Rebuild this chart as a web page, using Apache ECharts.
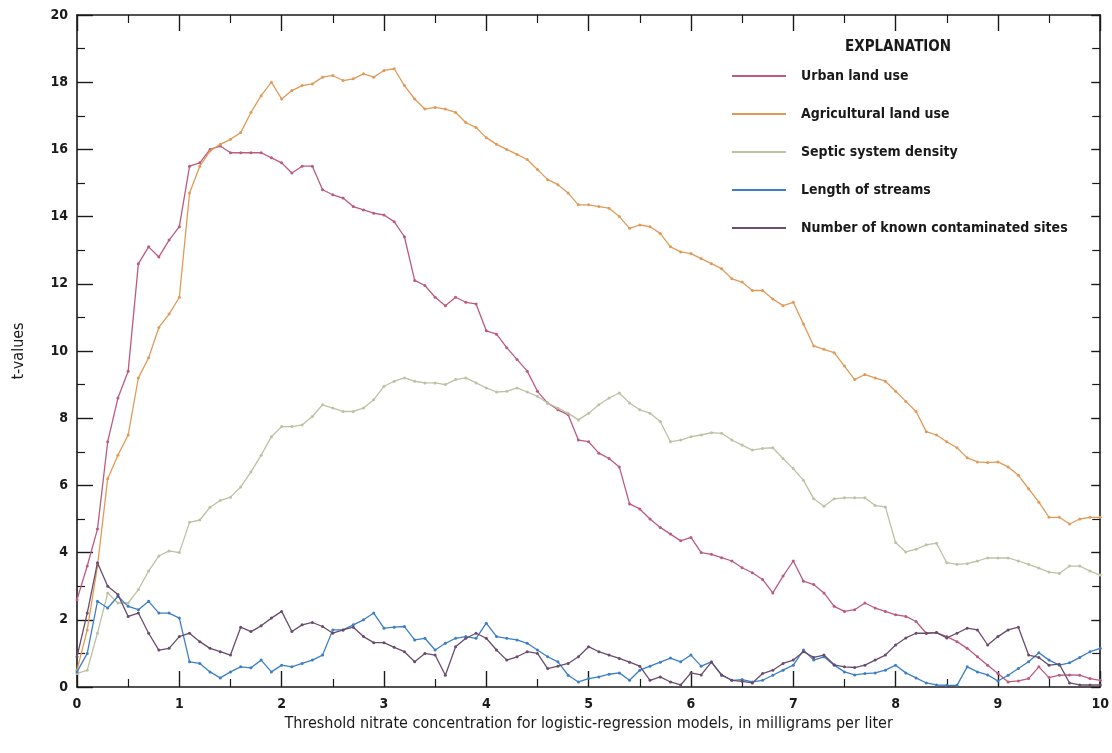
<!DOCTYPE html>
<html>
<head>
<meta charset="utf-8">
<title>t-values by threshold nitrate concentration</title>
<script src="https://cdn.jsdelivr.net/npm/echarts@6/dist/echarts.min.js"></script>
<style>
  html, body { margin: 0; padding: 0; background: #ffffff; }
  #chart { width: 1112px; height: 753px; }
</style>
</head>
<body>
<div id="chart"></div>
<script>
// Threshold nitrate concentration (mg/L) for each logistic-regression model
const thresholds = [
  0.0, 0.1, 0.2, 0.3, 0.4, 0.5, 0.6, 0.7, 0.8, 0.9,
  1.0, 1.1, 1.2, 1.3, 1.4, 1.5, 1.6, 1.7, 1.8, 1.9,
  2.0, 2.1, 2.2, 2.3, 2.4, 2.5, 2.6, 2.7, 2.8, 2.9,
  3.0, 3.1, 3.2, 3.3, 3.4, 3.5, 3.6, 3.7, 3.8, 3.9,
  4.0, 4.1, 4.2, 4.3, 4.4, 4.5, 4.6, 4.7, 4.8, 4.9,
  5.0, 5.1, 5.2, 5.3, 5.4, 5.5, 5.6, 5.7, 5.8, 5.9,
  6.0, 6.1, 6.2, 6.3, 6.4, 6.5, 6.6, 6.7, 6.8, 6.9,
  7.0, 7.1, 7.2, 7.3, 7.4, 7.5, 7.6, 7.7, 7.8, 7.9,
  8.0, 8.1, 8.2, 8.3, 8.4, 8.5, 8.6, 8.7, 8.8, 8.9,
  9.0, 9.1, 9.2, 9.3, 9.4, 9.5, 9.6, 9.7, 9.8, 9.9,
  10.0
];

// t-values of each explanatory variable
const urbanLandUse = [
  2.6, 3.6, 4.7, 7.3, 8.6, 9.4, 12.6, 13.1, 12.8, 13.3,
  13.7, 15.5, 15.6, 16.0, 16.1, 15.9, 15.9, 15.9, 15.9, 15.75,
  15.6, 15.3, 15.5, 15.5, 14.8, 14.65, 14.55, 14.3, 14.2, 14.1,
  14.05, 13.85, 13.4, 12.1, 11.95, 11.6, 11.35, 11.6, 11.45, 11.4,
  10.6, 10.5, 10.1, 9.75, 9.4, 8.8, 8.45, 8.25, 8.1, 7.35,
  7.3, 6.96, 6.8, 6.55, 5.45, 5.3, 5.0, 4.75, 4.55, 4.35,
  4.45, 4.0, 3.95, 3.85, 3.75, 3.55, 3.4, 3.2, 2.8, 3.3,
  3.75, 3.15, 3.05, 2.8, 2.4, 2.25, 2.3, 2.5, 2.35, 2.25,
  2.15, 2.1, 1.95, 1.6, 1.62, 1.5, 1.35, 1.15, 0.9, 0.65,
  0.4, 0.15, 0.18, 0.25, 0.6, 0.28, 0.35, 0.36, 0.35, 0.25,
  0.2
];

const agriculturalLandUse = [
  0.5, 1.7, 3.6, 6.2, 6.9, 7.5, 9.2, 9.8, 10.7, 11.1,
  11.6, 14.7, 15.5, 15.95, 16.15, 16.3, 16.5, 17.1, 17.6, 18.0,
  17.5, 17.75, 17.9, 17.95, 18.15, 18.2, 18.05, 18.1, 18.25, 18.15,
  18.35, 18.4, 17.9, 17.5, 17.2, 17.25, 17.2, 17.1, 16.8, 16.65,
  16.35, 16.15, 16.0, 15.85, 15.7, 15.4, 15.1, 14.95, 14.7, 14.35,
  14.35, 14.3, 14.25, 14.0, 13.65, 13.75, 13.7, 13.5, 13.1, 12.95,
  12.9, 12.75, 12.6, 12.45, 12.15, 12.05, 11.8, 11.8, 11.55, 11.35,
  11.45, 10.8, 10.15, 10.05, 9.95, 9.55, 9.15, 9.3, 9.2, 9.1,
  8.8, 8.5, 8.2, 7.6, 7.5, 7.3, 7.12, 6.82, 6.7, 6.68,
  6.7, 6.55, 6.3, 5.9, 5.5, 5.05, 5.05, 4.85, 5.0, 5.05,
  5.05
];

const septicSystemDensity = [
  0.4, 0.5, 1.6, 2.8, 2.5, 2.5, 2.9, 3.45, 3.9, 4.05,
  4.0, 4.9, 4.97, 5.35, 5.55, 5.65, 5.95, 6.4, 6.9, 7.45,
  7.75, 7.75, 7.8, 8.05, 8.4, 8.3, 8.2, 8.2, 8.3, 8.55,
  8.95, 9.1, 9.2, 9.1, 9.05, 9.05, 9.0, 9.15, 9.2, 9.05,
  8.9, 8.78, 8.8, 8.9, 8.78, 8.65, 8.45, 8.3, 8.15, 7.95,
  8.15, 8.4, 8.6, 8.75, 8.45, 8.25, 8.15, 7.9, 7.3, 7.35,
  7.45, 7.5, 7.57, 7.55, 7.35, 7.2, 7.05, 7.1, 7.12, 6.8,
  6.5, 6.15, 5.6, 5.38, 5.6, 5.63, 5.63, 5.63, 5.4, 5.36,
  4.3, 4.02, 4.1, 4.23, 4.28, 3.7, 3.65, 3.67, 3.75, 3.84,
  3.84, 3.84, 3.75, 3.65, 3.54, 3.42, 3.38, 3.6, 3.6, 3.45,
  3.33
];

const lengthOfStreams = [
  0.45, 1.0, 2.55, 2.35, 2.7, 2.4, 2.3, 2.55, 2.2, 2.2,
  2.05, 0.75, 0.7, 0.45, 0.27, 0.45, 0.6, 0.57, 0.8, 0.45,
  0.65, 0.6, 0.7, 0.8, 0.95, 1.7, 1.7, 1.85, 2.0, 2.2,
  1.75, 1.78, 1.8, 1.4, 1.45, 1.1, 1.3, 1.45, 1.5, 1.45,
  1.9, 1.5, 1.45, 1.4, 1.3, 1.1, 0.9, 0.75, 0.35, 0.15,
  0.25, 0.3, 0.38, 0.42, 0.2, 0.5, 0.62, 0.74, 0.86, 0.75,
  0.95, 0.62, 0.75, 0.35, 0.2, 0.22, 0.15, 0.2, 0.35, 0.5,
  0.65, 1.1, 0.8, 0.9, 0.65, 0.45, 0.36, 0.4, 0.42, 0.5,
  0.65, 0.42, 0.27, 0.12, 0.06, 0.05, 0.05, 0.6, 0.45, 0.36,
  0.18, 0.35, 0.55, 0.75, 1.02, 0.8, 0.65, 0.72, 0.88, 1.05,
  1.15
];

const contaminatedSites = [
  0.9, 2.2, 3.7, 3.0, 2.75, 2.1, 2.2, 1.6, 1.1, 1.15,
  1.5, 1.6, 1.35, 1.15, 1.05, 0.95, 1.78, 1.65, 1.82, 2.05,
  2.25, 1.65, 1.85, 1.92, 1.8, 1.6, 1.7, 1.78, 1.5, 1.32,
  1.32, 1.18, 1.05, 0.75, 1.0, 0.95, 0.35, 1.2, 1.45, 1.6,
  1.45, 1.1, 0.8, 0.9, 1.05, 1.0, 0.55, 0.62, 0.7, 0.9,
  1.2, 1.05, 0.95, 0.85, 0.74, 0.62, 0.2, 0.3, 0.15, 0.06,
  0.42, 0.36, 0.74, 0.36, 0.2, 0.17, 0.12, 0.4, 0.5, 0.7,
  0.8, 1.05, 0.88, 0.95, 0.66, 0.6, 0.58, 0.65, 0.8, 0.95,
  1.25, 1.46, 1.6, 1.6, 1.62, 1.46, 1.6, 1.75, 1.7, 1.25,
  1.5, 1.7, 1.78, 0.95, 0.88, 0.65, 0.68, 0.12, 0.06, 0.06,
  0.06
];

const seriesNames = [
  'Urban land use',
  'Agricultural land use',
  'Septic system density',
  'Length of streams',
  'Number of known contaminated sites'
];
const seriesValues = [urbanLandUse, agriculturalLandUse, septicSystemDensity, lengthOfStreams, contaminatedSites];
const seriesColors = ['#bd5a80', '#e29a58', '#bcc2a2', '#3c7fc6', '#6a4c6c'];

const xTickLabels = ['0', '1', '2', '3', '4', '5', '6', '7', '8', '9', '10'];
const yTickLabels = ['0', '2', '4', '6', '8', '10', '12', '14', '16', '18', '20'];

const FONT = "'Liberation Sans Narrow', 'DejaVu Sans Condensed', 'Liberation Sans', sans-serif";
const INK = '#1a1a1a';

function pairs(values) {
  return values.map((v, i) => [thresholds[i], v]);
}

const chart = echarts.init(document.getElementById('chart'), null, { renderer: 'canvas' });

const baseAxisLine = { show: true, onZero: false, lineStyle: { color: INK, width: 1.6 } };

const xAxisCommon = {
  type: 'value', min: 0, max: 10, interval: 1,
  axisLine: baseAxisLine,
  axisTick: { show: true, inside: true, length: 16, lineStyle: { color: INK, width: 1.4 } },
  minorTick: { show: true, splitNumber: 2, length: 8, lineStyle: { color: INK, width: 1.2 } },
  splitLine: { show: false }
};

const yAxisCommon = {
  type: 'value', min: 0, max: 20, interval: 2,
  axisLine: baseAxisLine,
  axisTick: { show: true, inside: true, length: 16, lineStyle: { color: INK, width: 1.4 } },
  minorTick: { show: true, splitNumber: 2, length: 8, lineStyle: { color: INK, width: 1.2 } },
  splitLine: { show: false }
};

const option = {
  backgroundColor: '#ffffff',
  animation: false,
  grid: { left: 77, right: 8, top: 15, bottom: 66, containLabel: false },
  xAxis: [
    Object.assign({}, xAxisCommon, {
      position: 'bottom',
      name: 'Threshold nitrate concentration for logistic-regression models, in milligrams per liter',
      nameLocation: 'middle', nameGap: 17,
      nameTextStyle: { fontFamily: FONT, fontSize: 16, color: INK },
      axisLabel: {
        show: true, margin: 10, fontFamily: FONT, fontSize: 14, fontWeight: 'bold', color: INK,
        formatter: v => xTickLabels[Math.round(v)]
      }
    }),
    Object.assign({}, xAxisCommon, {
      position: 'top',
      axisLabel: { show: false }
    })
  ],
  yAxis: [
    Object.assign({}, yAxisCommon, {
      position: 'left',
      name: 't-values',
      nameLocation: 'middle', nameGap: 50, nameRotate: 90,
      nameTextStyle: { fontFamily: FONT, fontSize: 16, color: INK },
      axisLabel: {
        show: true, margin: 9, fontFamily: FONT, fontSize: 14, fontWeight: 'bold', color: INK,
        formatter: v => yTickLabels[Math.round(v / 2)]
      }
    }),
    Object.assign({}, yAxisCommon, {
      position: 'right',
      axisTick: { show: true, inside: true, length: 9, lineStyle: { color: INK, width: 1.4 } },
      axisLabel: { show: false }
    })
  ],
  legend: {
    orient: 'vertical',
    left: 727, top: 64,
    itemWidth: 54, itemHeight: 12, itemGap: 24,
    icon: 'path://M0,5 L54,5 L54,7 L0,7 Z',
    textStyle: { fontFamily: FONT, fontSize: 14, fontWeight: 'bold', color: INK, padding: [0, 0, 0, 10] },
    data: seriesNames,
    selectedMode: false
  },
  graphic: [
    {
      type: 'text', left: 845, top: 40,
      style: { text: 'EXPLANATION', fontFamily: FONT, fontSize: 15, fontWeight: 'bold', fill: INK }
    }
  ],
  series: seriesNames.map((name, k) => ({
    name,
    type: 'line',
    xAxisIndex: 0, yAxisIndex: 0,
    data: pairs(seriesValues[k]),
    showSymbol: true,
    symbol: 'circle',
    symbolSize: 3,
    color: seriesColors[k],
    lineStyle: { width: 1.3, color: seriesColors[k] },
    itemStyle: { color: seriesColors[k] },
    emphasis: { disabled: true },
    z: 2 + k
  }))
};

chart.setOption(option);
</script>
</body>
</html>
